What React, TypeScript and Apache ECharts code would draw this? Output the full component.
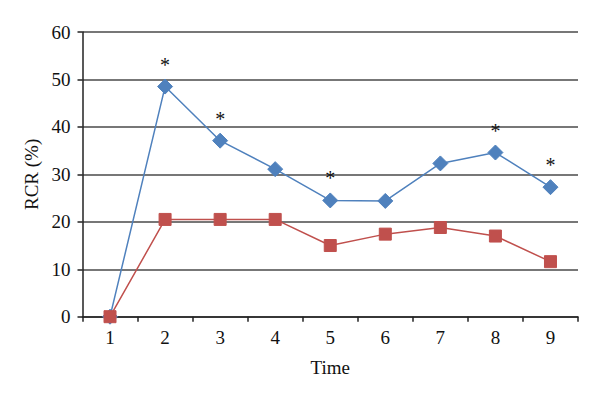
import React, { useEffect, useRef } from "react";
import * as echarts from "echarts";

const categories = ["1", "2", "3", "4", "5", "6", "7", "8", "9"];
const blueValues = [0, 48.5, 37.1, 31.1, 24.5, 24.4, 32.3, 34.6, 27.3];
const redValues = [0, 20.5, 20.5, 20.5, 15.0, 17.4, 18.8, 17.0, 11.6];
const significant = [false, true, true, false, true, false, false, true, true];

const FONT = "'Liberation Serif', 'Times New Roman', serif";

export default function App() {
  const ref = useRef<HTMLDivElement>(null);
  useEffect(() => {
    if (!ref.current) return;
    const chart = echarts.init(ref.current, null, { renderer: "svg" });
    chart.setOption({
      animation: false,
      backgroundColor: "#ffffff",
      grid: { left: 82.5, right: 22, top: 32, bottom: 85.3, containLabel: false },
      xAxis: {
        type: "category",
        data: categories,
        boundaryGap: true,
        name: "Time",
        nameLocation: "middle",
        nameGap: 41,
        nameTextStyle: { fontFamily: FONT, fontSize: 19, color: "#111" },
        axisLine: { lineStyle: { color: "#222", width: 1.5 } },
        axisTick: { show: true, length: 5, inside: false, alignWithLabel: false, lineStyle: { color: "#222", width: 1.5 } },
        axisLabel: { fontFamily: FONT, fontSize: 19, color: "#111", margin: 11 },
        splitLine: { show: false },
      },
      yAxis: {
        type: "value",
        min: 0,
        max: 60,
        interval: 10,
        name: "RCR (%)",
        nameLocation: "middle",
        nameGap: 41,
        nameRotate: 90,
        nameTextStyle: { fontFamily: FONT, fontSize: 19, color: "#111" },
        axisLine: { show: true, lineStyle: { color: "#222", width: 1.5 } },
        axisTick: { show: true, length: 5, lineStyle: { color: "#222", width: 1.5 } },
        axisLabel: { fontFamily: FONT, fontSize: 19, color: "#111", margin: 12 },
        splitLine: { show: true, lineStyle: { color: "#4a4a4a", width: 1.5 } },
      },
      series: [
        {
          type: "line",
          data: blueValues.map((v, i) => ({
            value: v,
            label: {
              show: significant[i],
              formatter: "*",
              position: "top",
              distance: 4,
              fontFamily: FONT,
              fontSize: 20,
              color: "#111",
            },
          })),
          symbol: "diamond",
          symbolSize: [15, 15],
          lineStyle: { color: "#4F81BD", width: 1.5 },
          itemStyle: { color: "#4F81BD", borderColor: "#4F81BD" },
          z: 2,
        },
        {
          type: "line",
          data: redValues,
          symbol: "rect",
          symbolSize: 12,
          lineStyle: { color: "#C0504D", width: 1.5 },
          itemStyle: { color: "#C0504D", borderColor: "#C0504D" },
          z: 3,
        },
      ],
    });
    return () => chart.dispose();
  }, []);
  return <div ref={ref} style={{ width: 600, height: 402, position: "absolute", left: 0, top: 0 }} />;
}
